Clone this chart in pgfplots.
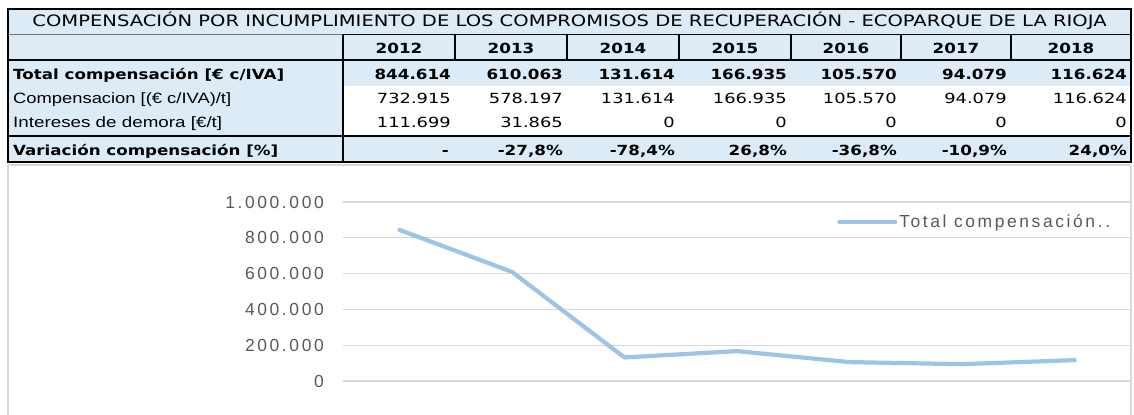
\documentclass[border=0pt]{standalone}
\usepackage{fontspec}
\setmainfont{DejaVu Sans}
\newfontfamily\arialf{Liberation Sans}
\newfontfamily\chartf[LetterSpace=15]{Liberation Sans}
\usepackage{graphicx}
\usepackage{pgfplots}
\pgfplotsset{compat=1.18}
\definecolor{hdr}{HTML}{DDEBF7}
\definecolor{linec}{HTML}{9DC3E6}
\definecolor{txtg}{HTML}{595959}
\definecolor{gridc}{HTML}{D9D9D9}
\newcommand\fw[2]{\resizebox{#1bp}{\height}{#2}}
\newcommand\hs[1]{\scalebox{1.2}[1]{#1}}
\newcommand\hr[1]{\scalebox{1.28}[1]{#1}}
\newcommand\tf{\fontsize{14}{16}\selectfont}
\begin{document}
\begin{tikzpicture}
\useasboundingbox (0,0) rectangle (1134bp,-415bp);
\begin{scope}[x=1bp,y=-1bp]
% backgrounds
\fill[hdr] (8,9) rectangle (1131,86);
\fill[hdr] (8,86) rectangle (343,136);
\fill[white] (343,86) rectangle (1131,136);
\fill[hdr] (8,136) rectangle (1131,162);
% chart frame
\draw[gridc, line width=1.2] (8,165) -- (1131,165);
\draw[gridc, line width=1.2] (8,165) -- (8,416);
\draw[gridc, line width=1.2] (1131,165) -- (1131,416);
% lines
\draw[black!55, line width=1] (8,34.5) -- (343,34.5);
\draw[black, line width=1.4] (343,34.5) -- (1131,34.5);
\draw[black, line width=2.6] (8,60) -- (1131,60);
\draw[black, line width=2.6] (8,136) -- (1131,136);
\draw[black, line width=2.6] (343,34.5) -- (343,162);
\foreach \x in {455,567,679,791,901,1011} \draw[black,line width=2.6] (\x,34.5) -- (\x,60);
\draw[black, line width=2.6] (8,9) rectangle (1131,162);
% title
\node[anchor=base, inner sep=0] at (569.5,26.5) {\fw{1074}{\fontsize{15.8}{18}\selectfont COMPENSACIÓN POR INCUMPLIMIENTO DE LOS COMPROMISOS DE RECUPERACIÓN - ECOPARQUE DE LA RIOJA}};
% years
\foreach \c/\yr in {399/2012,511/2013,623/2014,735/2015,846/2016,956/2017,1071/2018}
  \node[anchor=base, inner sep=0] at (\c,53) {\hs{\tf\bfseries \yr}};
% row labels
\node[anchor=base west, inner sep=0] at (13,79) {\fw{271}{\tf\bfseries Total compensación [€ c/IVA]}};
\node[anchor=base west, inner sep=0] at (13,103) {\fw{218}{\fontsize{15}{17}\selectfont\arialf Compensacion [(€ c/IVA)/t]}};
\node[anchor=base west, inner sep=0] at (13,127.5) {\fw{209}{\fontsize{15}{17}\selectfont\arialf Intereses de demora [€/t]}};
\node[anchor=base west, inner sep=0] at (13,155) {\fw{265}{\tf\bfseries Variación compensación [\%]}};
% numbers
\foreach \r/\a/\b/\c in {451/844.614/732.915/111.699, 563/610.063/578.197/31.865, 675/131.614/131.614/0, 787/166.935/166.935/0, 897/105.570/105.570/0, 1007/94.079/94.079/0, 1127/116.624/116.624/0}{
  \node[anchor=base east, inner sep=0] at (\r,79) {\hs{\tf\bfseries \a}};
  \node[anchor=base east, inner sep=0] at (\r,103) {\hr{\tf \b}};
  \node[anchor=base east, inner sep=0] at (\r,127.5) {\hr{\tf \c}};
}
\foreach \r/\d in {449/-, 563/-27{,}8\%, 675/-78{,}4\%, 787/26{,}8\%, 897/-36{,}8\%, 1007/-10{,}9\%, 1127/24{,}0\%}
  \node[anchor=base east, inner sep=0] at (\r,155) {\hs{\tf\bfseries \d}};
\end{scope}
\begin{axis}[
  at={(343bp,-381bp)}, anchor=south west,
  scale only axis, width=788bp, height=179bp,
  xmin=-0.5, xmax=6.5, ymin=0, ymax=1000000,
  scaled y ticks=false,
  axis line style={draw=none},
  major tick style={draw=none},
  xtick=\empty,
  ytick={0,200000,400000,600000,800000,1000000},
  yticklabels={0,200.000,400.000,600.000,800.000,1.000.000},
  ymajorgrids,
  grid style={gridc, line width=1.2bp},
  yticklabel style={font=\fontsize{17.5}{18}\selectfont\chartf, text=txtg, anchor=east, inner sep=0pt, xshift=-19bp},
  clip=false,
  legend style={at={(0.627,0.888)}, anchor=west, draw=none, fill=none, inner sep=0pt,
    font=\fontsize{17.5}{18}\selectfont\chartf, text=txtg,
    /tikz/every even column/.append style={column sep=0pt}},
  legend cell align=left,
  legend image code/.code={\draw[#1, line width=4bp] (0bp,0bp) -- (56bp,0bp);},
]
\addplot[color=linec, line width=4.2bp, line join=round, line cap=round]
  coordinates {(0,844614) (1,610063) (2,131614) (3,166935) (4,105570) (5,94079) (6,116624)};
\addlegendentry{Total compensación..}
\end{axis}
\end{tikzpicture}
\end{document}
